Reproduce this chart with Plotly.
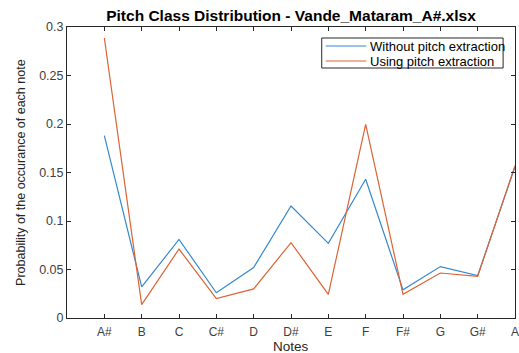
import plotly.graph_objects as go

# Pitch classes in the order they are plotted
notes = ["A#", "B", "C", "C#", "D", "D#", "E", "F", "F#", "G", "G#", "A"]

# Probability of each note, from the audio without and with pitch extraction
without_extraction = [0.188, 0.032, 0.081, 0.026, 0.052, 0.1155, 0.077, 0.143, 0.029, 0.053, 0.0437, 0.156]
with_extraction = [0.2887, 0.0138, 0.0711, 0.020, 0.030, 0.0777, 0.0244, 0.1997, 0.0244, 0.0464, 0.043, 0.157]

series_names = ["Without pitch extraction", "Using pitch extraction"]
series_colors = ["#3489cf", "#dc6333"]

y_ticks = [0, 0.05, 0.1, 0.15, 0.2, 0.25, 0.3]
y_tick_labels = ["0", "0.05", "0.1", "0.15", "0.2", "0.25", "0.3"]

x_pos = list(range(1, len(notes) + 1))

AXIS = "#262626"
FONT = "Liberation Sans, Arial, sans-serif"

# Plot area in pixels (left, top, right, bottom) of the 519x353 figure
PL, PT, PR, PB = 67, 27, 519, 318


def px(x):
    return (x - PL) / (PR - PL)


def py(y):
    return (PB - y) / (PB - PT)


fig = go.Figure()
for name, color, values in zip(series_names, series_colors,
                               [without_extraction, with_extraction]):
    fig.add_trace(go.Scatter(x=x_pos, y=values, mode="lines", name=name,
                             showlegend=False,
                             line=dict(color=color, width=1.2)))

# Boxed legend in the upper right corner
legend_shapes = [dict(type="rect", xref="paper", yref="paper",
                      x0=px(324), x1=px(507), y0=py(68), y1=py(38),
                      line=dict(color=AXIS, width=1), fillcolor="white",
                      layer="above")]
legend_labels = []
for i, (name, color) in enumerate(zip(series_names, series_colors)):
    yy = 46 + 15 * i
    legend_shapes.append(dict(type="line", xref="paper", yref="paper",
                              x0=px(328), x1=px(369), y0=py(yy), y1=py(yy),
                              line=dict(color=color, width=1.2), layer="above"))
    legend_labels.append(dict(text=name, xref="paper", yref="paper",
                              x=px(371), y=py(yy), xanchor="left",
                              yanchor="middle", showarrow=False,
                              font=dict(size=13, color="black", family=FONT)))

fig.update_layout(
    width=519, height=353,
    margin=dict(l=PL, r=519 - PR, t=PT, b=353 - PB),
    paper_bgcolor="white", plot_bgcolor="white",
    font=dict(family=FONT, color=AXIS, size=12),
    title=dict(text="<b>Pitch Class Distribution - Vande_Mataram_A#.xlsx</b>",
               x=0.5, xref="paper", y=1 - 16 / 353, yref="container",
               xanchor="center", yanchor="middle",
               font=dict(size=15.5, color="black", family=FONT)),
    showlegend=False,
    xaxis=dict(range=[0, 12], tickvals=x_pos, ticktext=notes,
               showline=True, linecolor=AXIS, linewidth=1, mirror="ticks",
               ticks="inside", ticklen=4, tickcolor=AXIS, tickwidth=1,
               showgrid=False, zeroline=False, ticklabeloverflow="allow",
               ticklabelstandoff=3,
               tickfont=dict(size=12, color="#404040")),
    yaxis=dict(range=[0, 0.3], tickvals=y_ticks, ticktext=y_tick_labels,
               showline=True, linecolor=AXIS, linewidth=1, mirror="ticks",
               ticks="inside", ticklen=4, tickcolor=AXIS, tickwidth=1,
               showgrid=False, zeroline=False,
               tickfont=dict(size=12.5, color="#404040")),
    shapes=legend_shapes,
    annotations=[
        dict(text="Probability of the occurance of each note", textangle=-90,
             xref="paper", yref="paper", x=px(20), y=0.5,
             xanchor="center", yanchor="middle", showarrow=False,
             font=dict(size=12.5, color="#262626", family=FONT)),
        dict(text="Notes", xref="paper", yref="paper",
             x=0.5, y=py(346), xanchor="center", yanchor="middle",
             showarrow=False, font=dict(size=13.5, color="#262626", family=FONT)),
    ] + legend_labels,
)

fig.write_html("out.html")
